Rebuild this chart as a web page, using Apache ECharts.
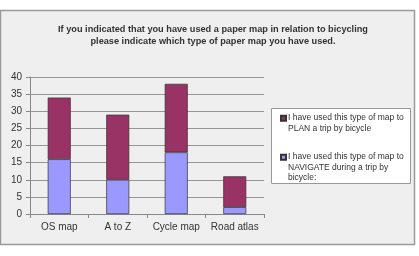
<!DOCTYPE html>
<html><head><meta charset="utf-8">
<script src="https://cdn.jsdelivr.net/npm/echarts@6/dist/echarts.min.js"></script>
<style>html,body{margin:0;padding:0;background:#fff}#c{width:419px;height:256px}</style>
</head><body><div id="c"></div>
<script>
const categories = ['OS map', 'A to Z', 'Cycle map', 'Road atlas'];
const navigateValues = [16, 10, 18, 2];
const planValues = [18, 19, 20, 9];
const yTicks = [0, 5, 10, 15, 20, 25, 30, 35, 40];
const titleText = 'If you indicated that you have used a paper map in relation to bicycling\nplease indicate which type of paper map you have used.';
const planName = 'I have used this type of map to PLAN a trip by bicycle';
const navName = 'I have used this type of map to NAVIGATE during a trip by bicycle:';
const legendText = {};
legendText[planName] = 'I have used this type of map to\nPLAN a trip by bicycle';
legendText[navName] = 'I have used this type of map to\nNAVIGATE during a trip by\nbicycle:';

const chart = echarts.init(document.getElementById('c'), null, {renderer: 'canvas'});
const font = 'Liberation Sans, Arial, sans-serif';
const LH = 10.3;
const legendCommon = {
  orient: 'vertical', padding: 0, itemWidth: 5, icon: 'rect',
  formatter: n => legendText[n],
  textStyle: {fontFamily: font, fontSize: 8.5, color: '#333', lineHeight: LH, padding: [0, 0, 0, -3]},
  selectedMode: false
};
chart.setOption({
  animation: false,
  backgroundColor: '#fff',
  graphic: [{
    type: 'rect', z: -10, silent: true,
    shape: {x: 0.5, y: 10.5, width: 414, height: 234},
    style: {fill: '#EFEFEF', stroke: '#9a9a9a', lineWidth: 1.5}
  }, {
    type: 'rect', z: -5, silent: true,
    shape: {x: 271.5, y: 108.5, width: 139, height: 75},
    style: {fill: '#fff', stroke: '#999', lineWidth: 1}
  }],
  title: {
    text: titleText, left: 208, top: 18, textAlign: 'center',
    textStyle: {fontFamily: font, fontSize: 9.2, fontWeight: 'bold', color: '#333', lineHeight: 12.5}
  },
  grid: {left: 30, right: 155, top: 77, bottom: 42},
  legend: [
    Object.assign({}, legendCommon, {
      left: 280, top: 112, itemHeight: 2 * LH,
      data: [{name: planName, icon: 'path://M0 0M0 2.65H5V7.65H0ZM5 ' + (2 * LH)}]
    }),
    Object.assign({}, legendCommon, {
      left: 280, top: 151, itemHeight: 3 * LH,
      data: [{name: navName, icon: 'path://M0 0M0 2.65H5V7.65H0ZM5 ' + (3 * LH)}]
    })
  ],
  xAxis: {
    type: 'category', data: categories,
    axisLine: {lineStyle: {color: '#888'}},
    axisTick: {show: true, length: 4, lineStyle: {color: '#888'}},
    axisLabel: {fontFamily: font, fontSize: 10, color: '#333', margin: 8, interval: 0}
  },
  yAxis: {
    type: 'value', min: 0, max: 40, interval: 5,
    axisLine: {show: true, lineStyle: {color: '#888'}},
    axisTick: {show: true, length: 4, lineStyle: {color: '#888'}},
    axisLabel: {fontFamily: font, fontSize: 10, color: '#333', margin: 8,
      formatter: v => yTicks.includes(v) ? String(v) : ''},
    splitLine: {lineStyle: {color: '#808080', width: 0.8}}
  },
  series: [
    {name: navName, type: 'bar', stack: 's', data: navigateValues, barWidth: 23,
     itemStyle: {color: '#9999FF', borderColor: '#333', borderWidth: 0.7}},
    {name: planName, type: 'bar', stack: 's', data: planValues, barWidth: 23,
     itemStyle: {color: '#993366', borderColor: '#333', borderWidth: 0.7}}
  ]
});
</script></body></html>
